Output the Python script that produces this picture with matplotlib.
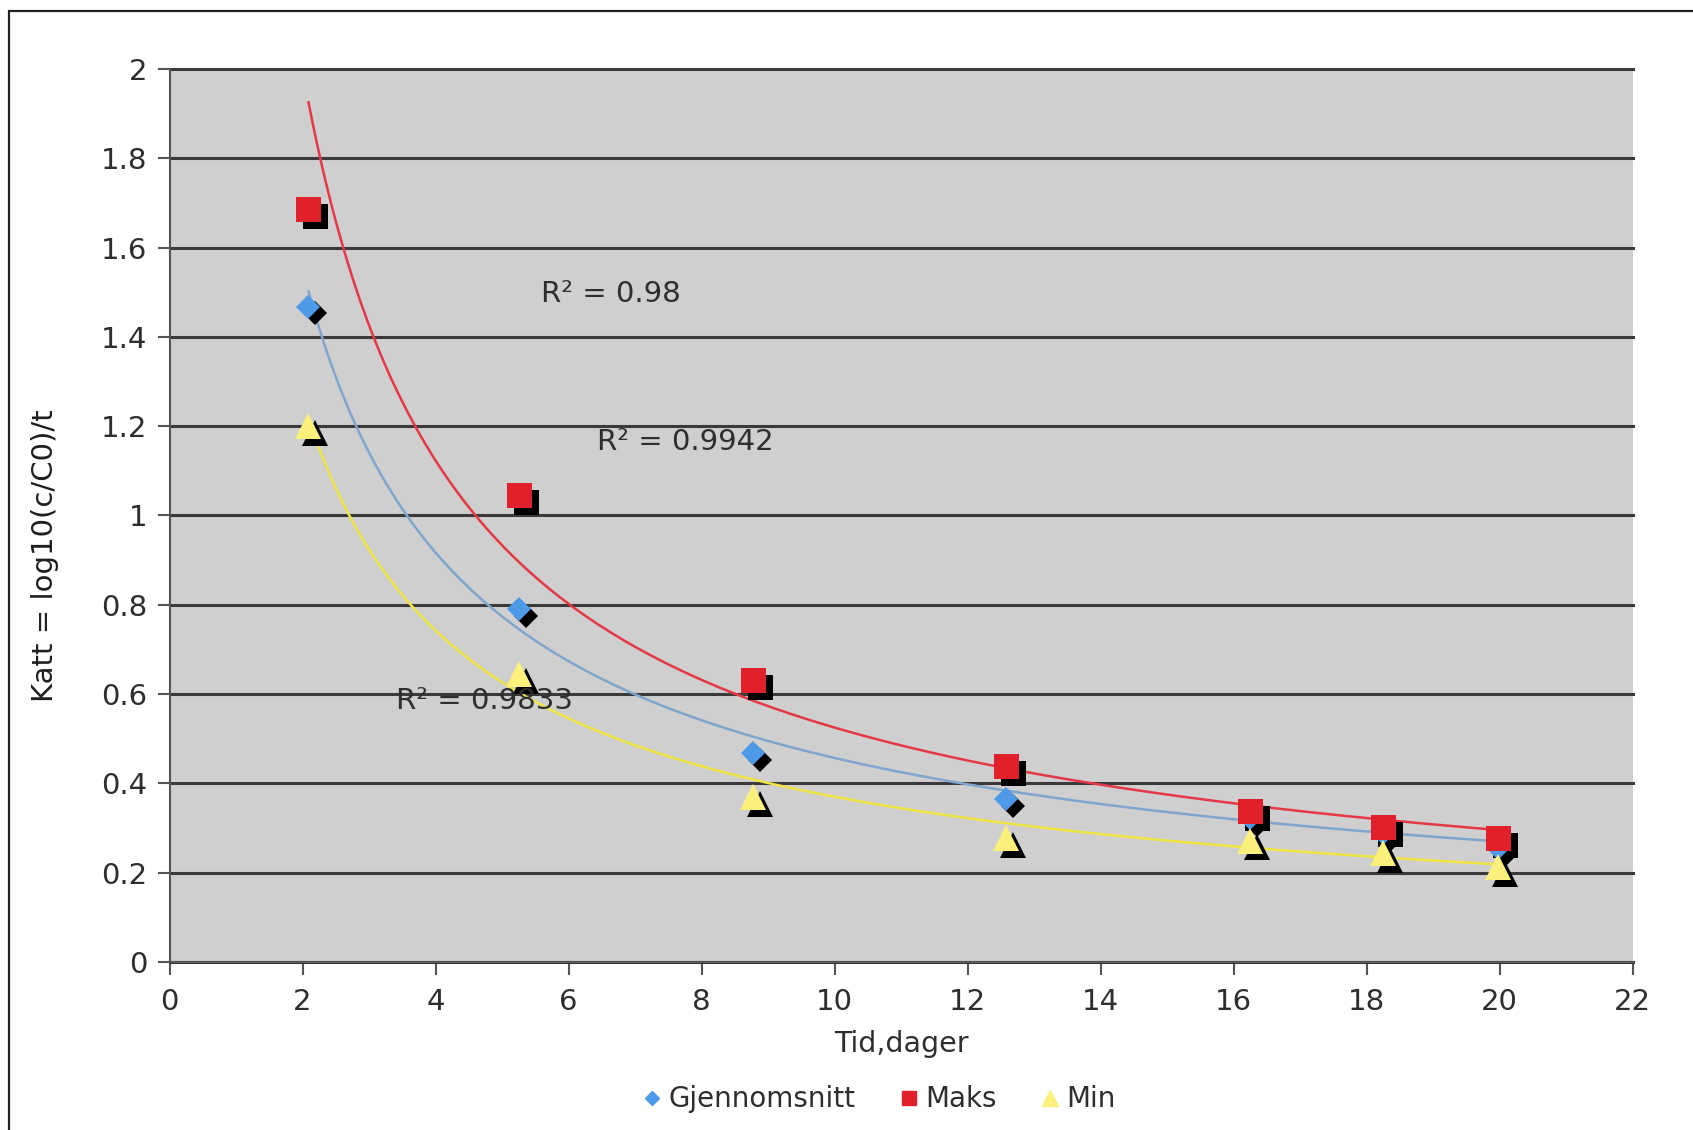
import numpy as np
import matplotlib.pyplot as plt
import matplotlib.transforms as mtransforms
from matplotlib.lines import Line2D
from matplotlib.patches import Rectangle

# Tid (dager) og Katt for de tre seriene
tid = [2.09, 5.26, 8.77, 12.58, 16.25, 18.25, 19.98]
gjennomsnitt = [1.468, 0.791, 0.469, 0.365, 0.322, 0.288, 0.256]
maks = [1.686, 1.045, 0.631, 0.438, 0.339, 0.302, 0.278]
minimum = [1.200, 0.646, 0.370, 0.278, 0.272, 0.244, 0.213]

# Potens-trendlinjer y = a * x^b
trend_gjsn = (2.63, -0.76)
trend_maks = (3.55, -0.83)
trend_min = (2.13, -0.76)

r2_tekster = ['R² = 0.98', 'R² = 0.9942', 'R² = 0.9833']
r2_pos = [(5.59, 1.496), (6.43, 1.165), (3.41, 0.585)]

x_ticks = list(range(0, 23, 2))
y_ticks = [0, 0.2, 0.4, 0.6, 0.8, 1, 1.2, 1.4, 1.6, 1.8, 2]

W, H = 1693, 1130
fig = plt.figure(figsize=(W / 100, H / 100), dpi=100)
fig.patch.set_facecolor('white')

# ramme rundt hele diagrammet
fig.patches.append(Rectangle((9 / W, -0.05), 1.1, 1 - 11 / H + 0.05,
                             transform=fig.transFigure, fill=False,
                             edgecolor='#222222', linewidth=1.6))

ax = fig.add_axes([169.5 / W, 1 - 962 / H, 1463 / W, 893 / H])
ax.set_facecolor('#cfcfcf')
ax.set_xlim(0, 22)
ax.set_ylim(0, 2)

ax.set_xticks(x_ticks)
ax.set_yticks(y_ticks)
ax.set_yticklabels(['%g' % v for v in y_ticks])
ax.tick_params(axis='both', direction='out', length=9, width=1.5,
               color='#555555', labelsize=21, labelcolor='#2e2e2e')
ax.tick_params(axis='x', pad=10)
ax.tick_params(axis='y', pad=7)
ax.grid(axis='y', color='#3a3a3a', linewidth=2.2)
ax.grid(axis='x', visible=False)
for gl in ax.get_ygridlines():
    gl.set_clip_on(False)
ax.set_axisbelow(True)
for side in ['top', 'right']:
    ax.spines[side].set_visible(False)
for side in ['left', 'bottom']:
    ax.spines[side].set_color('#555555')
    ax.spines[side].set_linewidth(1.5)

ax.set_xlabel('Tid,dager', fontsize=20.5, color='#2e2e2e', labelpad=10)
ax.set_ylabel('Katt = log10(c/C0)/t', fontsize=21, color='#1e1e1e')
ax.yaxis.set_label_coords(-0.0755, 0.455)

# trendlinjer
xs = np.linspace(tid[0], tid[-1], 300)
for (a, b), farge in [(trend_gjsn, '#7fa6cc'), (trend_maks, '#e53845'),
                      (trend_min, '#efe543')]:
    ax.plot(xs, a * xs ** b, color=farge, linewidth=1.8, zorder=3)

# punkter med skygge
skygge = mtransforms.offset_copy(ax.transData, fig=fig, x=5, y=-5, units='points')
serier = [(gjennomsnitt, 'D', 12, '#4f9ae8'),
          (maks, 's', 18, '#e0202a'),
          (minimum, '^', 19, '#fbf07c')]
for verdier, m, ms, farge in serier:
    ax.plot(tid, verdier, m, color='black', markersize=ms, markeredgewidth=0,
            transform=skygge, zorder=4, clip_on=False)
for verdier, m, ms, farge in serier:
    ax.plot(tid, verdier, m, color=farge, markersize=ms, markeredgewidth=0,
            zorder=5, clip_on=False)

for tekst, (x, y) in zip(r2_tekster, r2_pos):
    ax.text(x, y, tekst, fontsize=21, color='#2e2e2e', ha='left', va='center',
            zorder=6)

handles = [Line2D([], [], marker='D', linestyle='', color='#4f9ae8', markersize=7),
           Line2D([], [], marker='s', linestyle='', color='#e0202a', markersize=10),
           Line2D([], [], marker='^', linestyle='', color='#fbf07c', markersize=11)]
fig.legend(handles, ['Gjennomsnitt', 'Maks', 'Min'], loc='center',
           bbox_to_anchor=(0.518, 0.027), ncol=3, frameon=False, fontsize=20,
           handletextpad=0.1, columnspacing=1.4, handlelength=1.0,
           labelcolor='#2e2e2e')

fig.savefig('out.png', dpi=100)
